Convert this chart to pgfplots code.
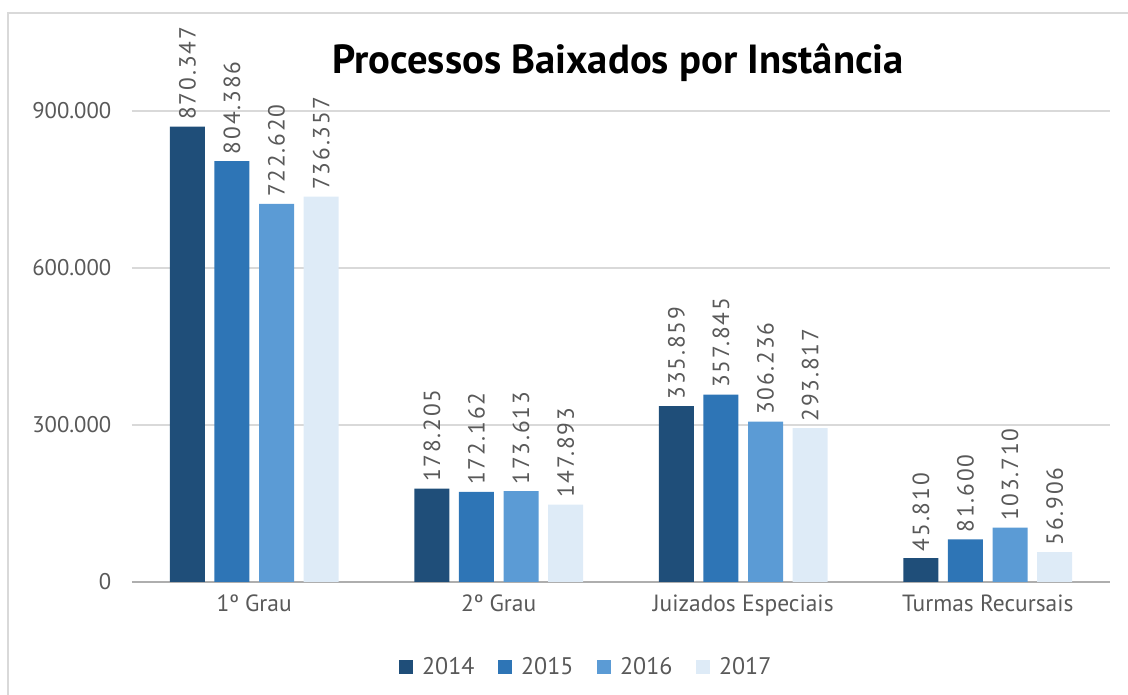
\documentclass[border=0pt]{standalone}
\usepackage{fontspec}
\setmainfont{PT Sans}
\newfontfamily\titlefont{PT Sans}
\newfontfamily\lblfont[LetterSpace=8]{PT Sans}
\usepackage{pgfplots}
\pgfplotsset{compat=1.18}
\definecolor{cA}{HTML}{1F4E79}
\definecolor{cB}{HTML}{2E75B6}
\definecolor{cC}{HTML}{5B9BD5}
\definecolor{cD}{HTML}{DEEBF7}
\definecolor{txt}{HTML}{595959}
\definecolor{grd}{HTML}{D9D9D9}
\pgfkeys{/pgf/number format/.cd,fixed,precision=0,1000 sep={.},assume math mode=true}
\begin{document}
\begin{tikzpicture}[x=0.75pt,y=0.75pt]
\path[use as bounding box] (0,0) rectangle (1128,695);
\draw[grd,line width=1.5pt] (8,-5) -- (8,682) -- (1135,682);
\begin{axis}[
  at={(99pt,84.75pt)}, anchor=south west,
  scale only axis, width=733.5pt, height=353.25pt,
  xmin=-0.5, xmax=3.5, ymin=0, ymax=900000,
  ybar=7.2pt, bar width=26.25pt,
  xtick={0,1,2,3},
  xticklabels={1º Grau,2º Grau,Juizados Especiais,Turmas Recursais},
  ytick={0,300000,600000,900000},
  scaled y ticks=false,
  ymajorgrids, grid style={grd,line width=0.9pt},
  axis line style={draw=none},
  extra y ticks={0}, extra y tick labels={},
  extra y tick style={grid style={grd!80!black,line width=0.9pt}},
  major tick length=0pt,
  tick label style={font=\fontsize{17}{20}\selectfont, text=txt},
  xticklabel style={yshift=-6pt, font=\fontsize{17.6}{20}\selectfont},
  yticklabel style={xshift=-12pt},
  clip=false,
  nodes near coords,
  every node near coord/.append style={rotate=90, anchor=west, inner xsep=5pt, font=\lblfont\fontsize{17.5}{20}\selectfont, text=txt},
  legend style={at={(0.465,-0.18)}, anchor=center, draw=none, legend columns=-1,
    font=\fontsize{18}{20}\selectfont, text=txt,
    /tikz/every even column/.append style={column sep=16pt}},
  legend image code/.code={\fill[#1] (0pt,-5.25pt) rectangle (10.5pt,5.25pt); \path (15pt,0pt);},
]
\addplot[fill=cA,draw=none] coordinates {(0,870347) (1,178205) (2,335859) (3,45810)};
\addplot[fill=cB,draw=none] coordinates {(0,804386) (1,172162) (2,357845) (3,81600)};
\addplot[fill=cC,draw=none] coordinates {(0,722620) (1,173613) (2,306236) (3,103710)};
\addplot[fill=cD,draw=none] coordinates {(0,736357) (1,147893) (2,293817) (3,56906)};
\legend{2014,2015,2016,2017}
\end{axis}
\node[font=\titlefont\bfseries\fontsize{30.5}{33}\selectfont] at (618,632) {Processos Baixados por Instância};
\end{tikzpicture}
\end{document}
